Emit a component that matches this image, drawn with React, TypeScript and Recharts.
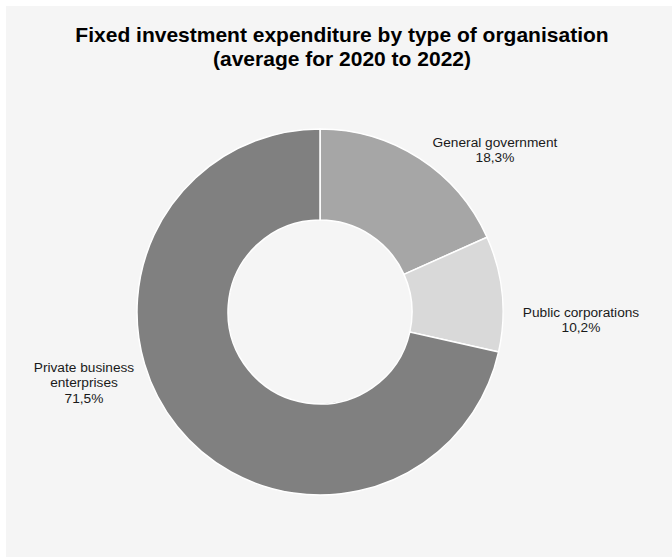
import React from 'react';
import { PieChart, Pie, Cell } from 'recharts';

const categories = ['General government', 'Public corporations', 'Private business enterprises'];
const shares = [18.3, 10.2, 71.5];
const labelNameLines = [['General government'], ['Public corporations'], ['Private business', 'enterprises']];
const sliceColors = ['#a6a6a6', '#d9d9d9', '#808080'];

const data = categories.map((name, i) => ({ name, value: shares[i], lines: labelNameLines[i] }));

// label block placement relative to pie centre (style, not data)
const labelOffsets: Record<string, [number, number]> = {
  'General government': [175, -165],
  'Public corporations': [261, 5],
  'Private business enterprises': [-236, 60],
};

const fmt = (v: number) => v.toFixed(1).replace('.', ',') + '%';

const renderLabel = (props: any) => {
  const { cx, cy, index } = props;
  const d = data[index];
  const off = labelOffsets[d.name];
  const x = cx + off[0];
  const y = cy + off[1];
  const lines = [...d.lines, fmt(d.value)];
  return (
    <text
      x={x}
      y={y}
      textAnchor="middle"
      fill="#1a1a1a"
      fontFamily="'Liberation Sans', Arial, sans-serif"
      fontSize={13.7}
    >
      {lines.map((l, i) => (
        <tspan key={i} x={x} dy={i === 0 ? 0 : 15.3}>
          {l}
        </tspan>
      ))}
    </text>
  );
};

export default function App() {
  return (
    <div style={{ position: 'absolute', left: 0, top: 0, width: 672, height: 558, background: '#ffffff' }}>
      <div style={{ position: 'absolute', left: 6, top: 6, width: 666, height: 551, background: '#f5f5f5' }} />
      <div
        style={{
          position: 'absolute',
          left: 6,
          top: 23.4,
          width: 672,
          textAlign: 'center',
          fontFamily: "'Liberation Sans', Arial, sans-serif",
          fontWeight: 'bold',
          fontSize: 21,
          lineHeight: '24px',
          color: '#000',
        }}
      >
        Fixed investment expenditure by type of organisation
        <br />
        (average for 2020 to 2022)
      </div>
      <div style={{ position: 'absolute', left: 0, top: 0 }}>
        <PieChart width={672} height={558} margin={{ top: 0, right: 0, bottom: 0, left: 0 }}>
          <Pie
            data={data}
            dataKey="value"
            nameKey="name"
            cx={320}
            cy={312}
            innerRadius={92}
            outerRadius={183}
            startAngle={90}
            endAngle={-270}
            stroke="#ffffff"
            strokeWidth={1.5}
            label={renderLabel}
            labelLine={false}
            isAnimationActive={false}
          >
            {data.map((d, i) => (
              <Cell key={d.name} fill={sliceColors[i]} />
            ))}
          </Pie>
        </PieChart>
      </div>
    </div>
  );
}
